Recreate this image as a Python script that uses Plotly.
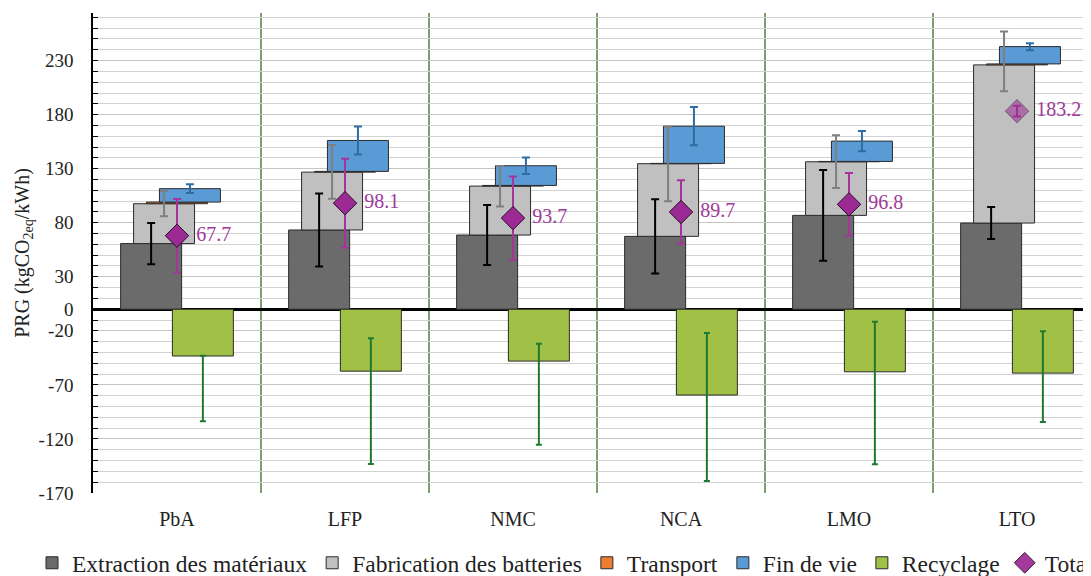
import plotly.graph_objects as go

# ---------------- data ----------------
categories = ["PbA", "LFP", "NMC", "NCA", "LMO", "LTO"]

extraction = [60.7, 73.3, 68.6, 67.4, 86.8, 79.7]
fabrication = [36.9, 53.5, 45.3, 67.2, 49.6, 146.3]
transport = [1.5, 0.7, 0.6, 0.3, 0.3, 0.9]
fin_de_vie = [12.4, 28.6, 18.2, 34.4, 18.8, 16.0]
recyclage = [-43.3, -57.3, -48.0, -79.4, -57.9, -59.1]

total_marker = [68.0, 98.1, 84.3, 89.9, 97.0, 183.2]
total_labels = ["67.7", "98.1", "93.7", "89.7", "96.8", "183.2"]

extraction_err = [19.0, 33.7, 27.7, 34.3, 42.0, 14.8]
fabrication_err_plus = [11.7, 25.0, 18.5, 34.1, 24.6, 30.8]
fabrication_err_minus = [11.7, 24.6, 18.8, 34.8, 24.3, 24.3]
fin_de_vie_err_plus = [4.0, 13.0, 7.7, 17.7, 9.3, 3.1]
fin_de_vie_err_minus = [4.0, 13.0, 7.7, 17.7, 9.3, 3.4]
recyclage_err_plus = [0.3, 30.5, 16.0, 57.5, 46.2, 38.8]
recyclage_err_minus = [60.4, 85.9, 77.3, 79.5, 85.6, 45.3]
total_err = [34.0, 41.0, 38.5, 29.3, 28.9, 5.0]

y_tickvals = [-170, -120, -70, -20, 0, 30, 80, 130, 180, 230]
y_ticktext = ["-170", "-120", "-70", "-20", "0", "30", "80", "130", "180", "230"]

# ---------------- styling ----------------
FONT = "Liberation Serif, Times New Roman, DejaVu Serif, serif"
C_EXTR = "#6b6b6b"
C_FAB = "#c0c0c0"
C_TRANS = "#ed7d31"
C_FDV = "#5b9bd5"
C_REC = "#a1c046"
C_TOT = "#9c2a94"
OUTLINE = "#2b2b2b"

BAR_W = 0.363
STEP = 0.077
offsets = [-2 * STEP, -1 * STEP, 0.0, 1 * STEP, 2 * STEP]

# page body has an 8px margin: layout margins compensate for it
M_L, M_T, M_B = 85, 5, 91
CAT_PX = 168
PLOT_W = 1091 - M_L
PLOT_H = 576 - M_T - M_B

idx = list(range(len(categories)))

fab_base = extraction
trans_base = [a + b for a, b in zip(extraction, fabrication)]
fdv_base = [a + b for a, b in zip(trans_base, transport)]
fdv_top = [a + b for a, b in zip(fdv_base, fin_de_vie)]


def xs(k):
    return [i + offsets[k] for i in idx]


fig = go.Figure()

bar_specs = [
    ("Extraction des matériaux", extraction, [0] * 6, C_EXTR, 0),
    ("Fabrication des batteries", fabrication, fab_base, C_FAB, 1),
    ("Transport", transport, trans_base, C_TRANS, 2),
    ("Fin de vie", fin_de_vie, fdv_base, C_FDV, 3),
    ("Recyclage", recyclage, [0] * 6, C_REC, 4),
]
for name, vals, base, col, k in bar_specs:
    fig.add_trace(go.Bar(
        x=xs(k), y=vals, base=base, width=BAR_W, name=name,
        marker=dict(color=col, line=dict(color=OUTLINE, width=1)),
        hoverinfo="skip",
    ))

# error bars drawn on top of all bars
err_specs = [
    (0, extraction, extraction_err, extraction_err, "#000000", 4),
    (1, trans_base, fabrication_err_plus, fabrication_err_minus, "#7f7f7f", 4),
    (3, fdv_top, fin_de_vie_err_plus, fin_de_vie_err_minus, "#2e6ca4", 4),
    (4, recyclage, recyclage_err_plus, recyclage_err_minus, "#1f7a31", 3),
]
for k, ys, ep, em, col, w in err_specs:
    fig.add_trace(go.Scatter(
        x=xs(k), y=ys, mode="markers",
        marker=dict(size=1, color="rgba(0,0,0,0)"),
        error_y=dict(type="data", symmetric=False, array=ep, arrayminus=em,
                     color=col, thickness=2, width=w),
        showlegend=False, hoverinfo="skip",
    ))

fig.add_trace(go.Scatter(
    x=idx, y=total_marker, mode="markers", name="Total",
    marker=dict(symbol="diamond", size=18, color=C_TOT,
                opacity=[1, 1, 1, 1, 1, 0.55],
                line=dict(color="#2a0a28", width=1)),
    error_y=dict(type="data", array=total_err, color="#a5349c",
                 thickness=2, width=4),
    hoverinfo="skip",
))

fig.add_trace(go.Scatter(
    x=[i + 0.115 for i in idx], y=total_marker, mode="text",
    text=total_labels, textposition="middle right",
    textfont=dict(family=FONT, size=20, color="#a0399a"),
    showlegend=False, hoverinfo="skip",
))

# category separators (between categories), above gridlines, below bars
for i in idx[:-1]:
    fig.add_shape(type="line", xref="x", yref="paper",
                  x0=i + 0.5, x1=i + 0.5, y0=0, y1=1,
                  line=dict(color="#255e14", width=1.2), layer="between")

fig.update_layout(
    width=1091, height=576,
    margin=dict(l=M_L, r=0, t=M_T, b=M_B, autoexpand=False),
    paper_bgcolor="white", plot_bgcolor="white",
    barmode="overlay",
    font=dict(family=FONT, color="#222222"),
    showlegend=True,
    legend=dict(
        orientation="h", xref="paper", yref="paper",
        x=(24 - M_L) / PLOT_W, y=-70 / PLOT_H, xanchor="left", yanchor="middle",
        font=dict(family=FONT, size=23.5, color="#222222"),
        bgcolor="rgba(0,0,0,0)", itemwidth=30,
    ),
    xaxis=dict(
        automargin=False,
        range=[-0.5, -0.5 + PLOT_W / CAT_PX],
        tickmode="array", tickvals=idx, ticktext=categories,
        showgrid=False, zeroline=False, showline=False, ticks="",
        tickfont=dict(family=FONT, size=20, color="#222222"),
        ticklabelstandoff=12,
    ),
    yaxis=dict(
        automargin=False,
        range=[-170, 274],
        tickmode="array", tickvals=y_tickvals, ticktext=y_ticktext,
        showgrid=True, gridcolor="#c4c4c4", gridwidth=1,
        zeroline=True, zerolinecolor="#000000", zerolinewidth=3,
        showline=True, linecolor="#000000", linewidth=1.5,
        ticks="inside", ticklen=5, tickcolor="#000000",
        minor=dict(tick0=-170, dtick=10, showgrid=True, gridcolor="#d2d2d2",
                   gridwidth=1, ticks="inside", ticklen=5, tickcolor="#000000"),
        tickfont=dict(family=FONT, size=19, color="#222222"),
        ticklabelstandoff=14,
        title=dict(text="PRG (kgCO<sub>2eq</sub>/kWh)",
                   font=dict(family=FONT, size=20, color="#222222"),
                   standoff=4),
    ),
)

fig.write_html("out.html")
